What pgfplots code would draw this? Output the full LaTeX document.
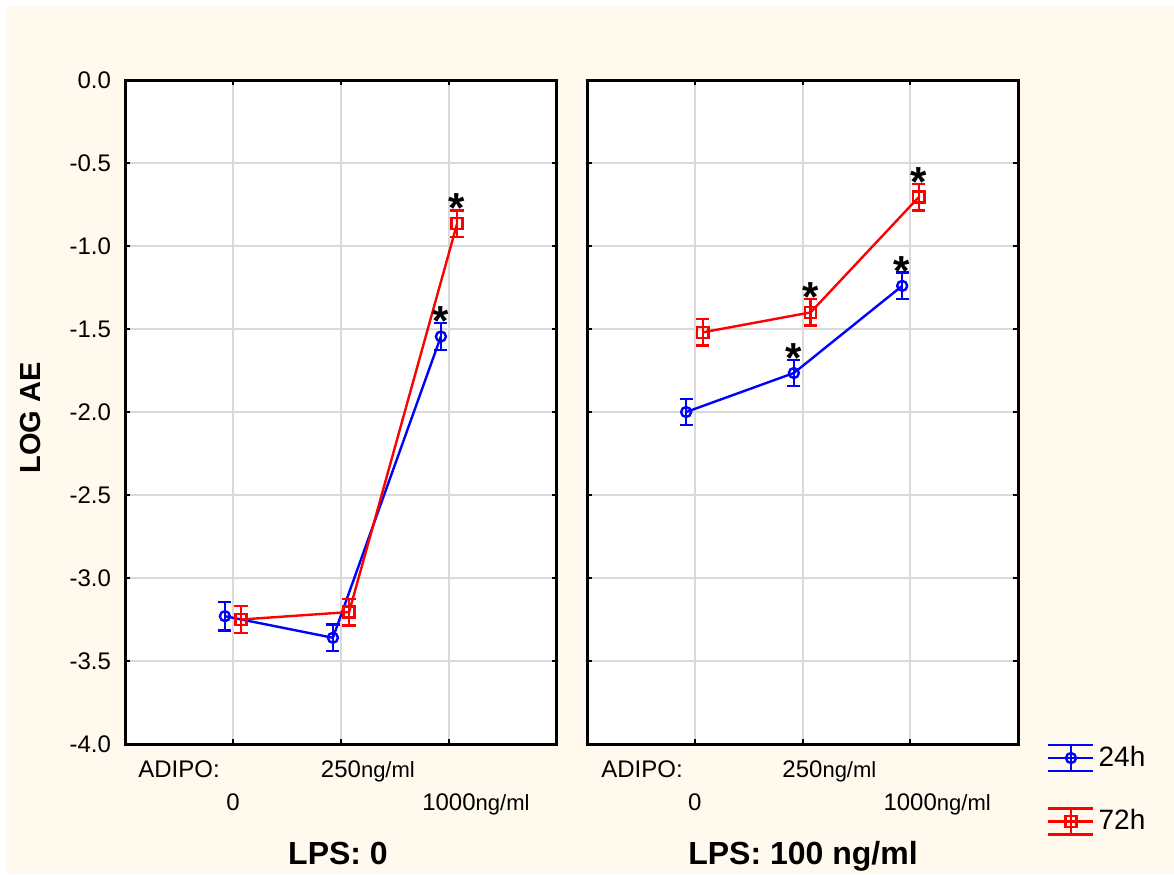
\documentclass[border=0pt]{standalone}
\usepackage{pgfplots}
\pgfplotsset{compat=1.18}
\usepackage{fontspec}
\setmainfont{Liberation Sans}
\definecolor{cream}{RGB}{255,249,238}
\definecolor{gridc}{RGB}{217,217,217}
\newcommand{\ngml}{\rlap{\fontsize{11}{13}\selectfont ng/ml}}
\pgfplotsset{
  panel/.style={
    scale only axis, height=332pt,
    xmin=0, xmax=4, ymin=-4, ymax=0,
    xtick={1,2,3},
    xticklabels={{0},{\raisebox{16.5pt}{250\ngml}},{1000\ngml}},
    ytick={-4,-3.5,-3,-2.5,-2,-1.5,-1,-0.5,0},
    grid=major, major grid style={gridc, line width=1pt},
    axis line style={black, line width=1.5pt},
    tick align=inside, major tick length=2.5pt, tick style={black, line width=1pt},
    axis background/.style={fill=white},
    xticklabel style={anchor=base, yshift=-33pt, font=\fontsize{12}{14}\selectfont},
    yticklabel style={font=\fontsize{12}{14}\selectfont, xshift=-3.5pt},
    clip=false,
  },
  s24/.style={blue, line width=1.2pt, mark=o, mark size=2.5pt, mark options={solid, line width=1.2pt},
    error bars/.cd, y dir=both, y explicit,
    error bar style={line width=1.2pt, blue},
    error mark options={line width=1.2pt, mark size=3.3pt, blue, rotate=90}},
  s72/.style={red, line width=1.2pt, mark=square, mark size=2.8pt, mark options={solid, line width=1.2pt},
    error bars/.cd, y dir=both, y explicit,
    error bar style={line width=1.2pt, red},
    error mark options={line width=1.2pt, mark size=3.3pt, red, rotate=90}},
  stars/.style={draw=none, mark=none, forget plot,
    nodes near coords={\fontsize{21}{21}\selectfont\bfseries *},
    every node near coord/.style={anchor=base, inner sep=0pt, yshift=-6.3pt, text=black}},
}
\begin{document}
\begin{tikzpicture}
\fill[white] (0,0) rectangle (587pt,-437pt);
\fill[cream] (3.5pt,-3.5pt) rectangle (587pt,-437pt);

% left panel
\begin{axis}[panel, width=216pt, at={(62.5pt,-372pt)}, anchor=south west,
  yticklabels={-4.0,-3.5,-3.0,-2.5,-2.0,-1.5,-1.0,-0.5,0.0}]
\addplot[s24] coordinates {(0.925,-3.23) +- (0,0.085) (1.925,-3.36) +- (0,0.08) (2.925,-1.545) +- (0,0.08)};
\addplot[s72] coordinates {(1.075,-3.25) +- (0,0.08) (2.075,-3.205) +- (0,0.08) (3.075,-0.865) +- (0,0.08)};
\addplot[stars] coordinates {(2.925,-1.465) (3.075,-0.785)};
\node[anchor=base west, font=\fontsize{12}{14}\selectfont, inner sep=0pt] at (rel axis cs:0,0) [xshift=6.5pt, yshift=-16.5pt] {ADIPO:};
\end{axis}

% right panel
\begin{axis}[panel, width=215.5pt, at={(293.5pt,-372pt)}, anchor=south west,
  yticklabels={},
  legend style={at={(1.067,0.003)}, anchor=north west, draw=none, fill=none,
    font=\fontsize{14}{16}\selectfont, row sep=16pt, inner sep=0pt,
    /tikz/every even column/.append style={column sep=4pt}},
  legend cell align=left,
  legend image code/.code={
    \draw[#1, mark=none] (0pt,0pt) -- (22.5pt,0pt);
    \draw[#1, mark=none] (0pt,6.5pt) -- (22.5pt,6.5pt);
    \draw[#1, mark=none] (0pt,-6.5pt) -- (22.5pt,-6.5pt);
    \draw[#1, mark=none] (11.25pt,-6.5pt) -- (11.25pt,6.5pt);
    \draw[#1] plot coordinates {(11.25pt,0pt)};
  }]
\addplot[s24] coordinates {(0.92,-2.00) +- (0,0.08) (1.92,-1.765) +- (0,0.08) (2.925,-1.24) +- (0,0.08)};
\addlegendentry{24h}
\addplot[s72] coordinates {(1.075,-1.52) +- (0,0.08) (2.075,-1.40) +- (0,0.08) (3.08,-0.705) +- (0,0.08)};
\addlegendentry{72h}
\addplot[stars] coordinates {(1.92,-1.685) (2.925,-1.16) (2.075,-1.32) (3.08,-0.625)};
\node[anchor=base west, font=\fontsize{12}{14}\selectfont, inner sep=0pt] at (rel axis cs:0,0) [xshift=7pt, yshift=-16.5pt] {ADIPO:};
\end{axis}

\node[rotate=90, font=\fontsize{14.5}{16}\selectfont\bfseries] at (15.5pt,-209pt) {LOG AE};
\node[anchor=base, font=\fontsize{16}{18}\selectfont\bfseries, inner sep=0pt] at (169pt,-432pt) {LPS: 0};
\node[anchor=base, font=\fontsize{16}{18}\selectfont\bfseries, inner sep=0pt] at (401.5pt,-432pt) {LPS: 100 ng/ml};
\end{tikzpicture}
\end{document}
